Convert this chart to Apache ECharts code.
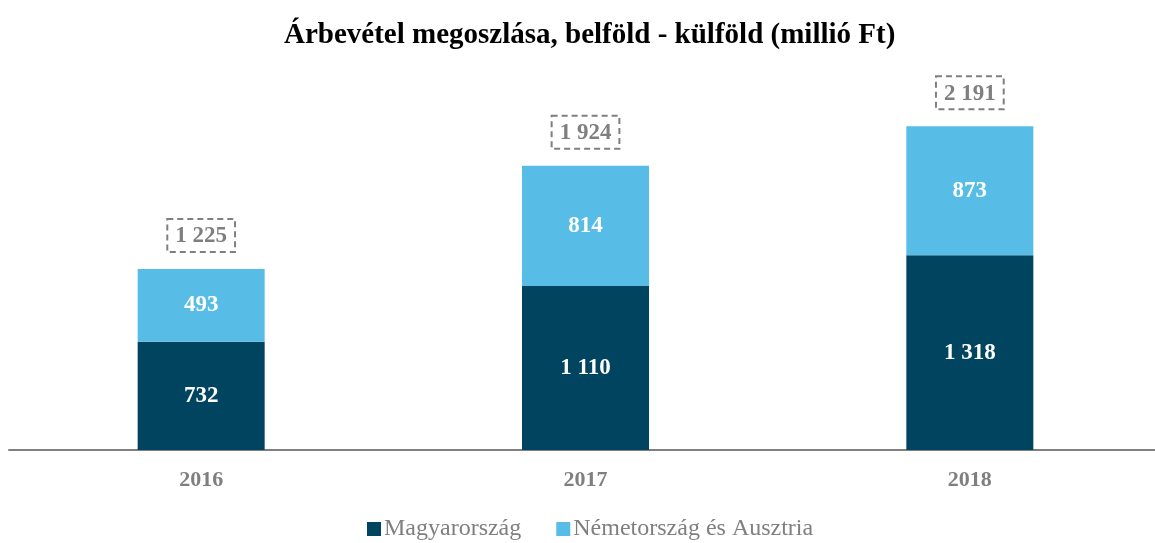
<!DOCTYPE html>
<html><head><meta charset="utf-8">
<script src="https://cdn.jsdelivr.net/npm/echarts@6/dist/echarts.min.js"></script>
<style>html,body{margin:0;padding:0;background:#fff}#c{width:1155px;height:543px}</style>
</head><body><div id="c"></div>
<script>
const categories = ['2016', '2017', '2018'];
const magyarorszag = [732, 1110, 1318];
const nemetAusztria = [493, 814, 873];
const totals = [1225, 1924, 2191];
const seriesNames = ['Magyarország', 'Németország és Ausztria'];

function fmt2(v) { return String(v).replace(/\B(?=(\d{3})+(?!\d))/g, ' '); }

const serif = '"Liberation Serif", "Times New Roman", serif';
const chart = echarts.init(document.getElementById('c'));
chart.setOption({
  animation: false,
  title: {
    text: 'Árbevétel megoszlása, belföld - külföld (millió Ft)',
    left: 279, top: 16,
    textStyle: { fontFamily: serif, fontSize: 29, fontWeight: 'bold', color: '#000' }
  },
  legend: {
    bottom: -3, left: 362, itemWidth: 14, itemHeight: 14, itemGap: 35,
    icon: 'rect',
    textStyle: { fontFamily: serif, fontSize: 24, color: '#7f7f7f', padding: [0, 0, 0, -2] },
    data: seriesNames
  },
  grid: { left: 9, width: 1153, top: 80.5, bottom: 93, outerBoundsMode: 'none', containLabel: false },
  xAxis: {
    type: 'category', data: categories,
    axisLine: { lineStyle: { color: '#808080', width: 2 } },
    axisTick: { show: false },
    axisLabel: { margin: 19, fontFamily: serif, fontSize: 22, fontWeight: 'bold', color: '#7f7f7f' }
  },
  yAxis: { type: 'value', min: 0, max: 2500, show: false, splitLine: { show: false } },
  series: [
    {
      name: seriesNames[0], type: 'bar', stack: 't', data: magyarorszag, barWidth: 127,
      itemStyle: { color: '#00445F' },
      label: { show: true, position: 'inside', formatter: p => fmt2(p.value),
        fontFamily: serif, fontSize: 23, fontWeight: 'bold', color: '#fff' }
    },
    {
      name: seriesNames[1], type: 'bar', stack: 't', data: nemetAusztria, barWidth: 127,
      itemStyle: { color: '#57BDE6' },
      label: { show: true, position: 'inside', formatter: p => fmt2(p.value),
        fontFamily: serif, fontSize: 23, fontWeight: 'bold', color: '#fff' }
    },
    {
      name: 'total', type: 'bar', stack: 't', data: totals.map(() => 0), barWidth: 127,
      itemStyle: { color: 'transparent' },
      label: { show: true, position: 'top', distance: 17,
        formatter: p => fmt2(totals[p.dataIndex]),
        fontFamily: serif, fontSize: 23, fontWeight: 'bold', color: '#7f7f7f',
        borderColor: '#7f7f7f', borderWidth: 2, borderType: [6, 4],
        padding: [6, 8, 4, 8] },
      tooltip: { show: false }
    }
  ]
});
</script></body></html>
